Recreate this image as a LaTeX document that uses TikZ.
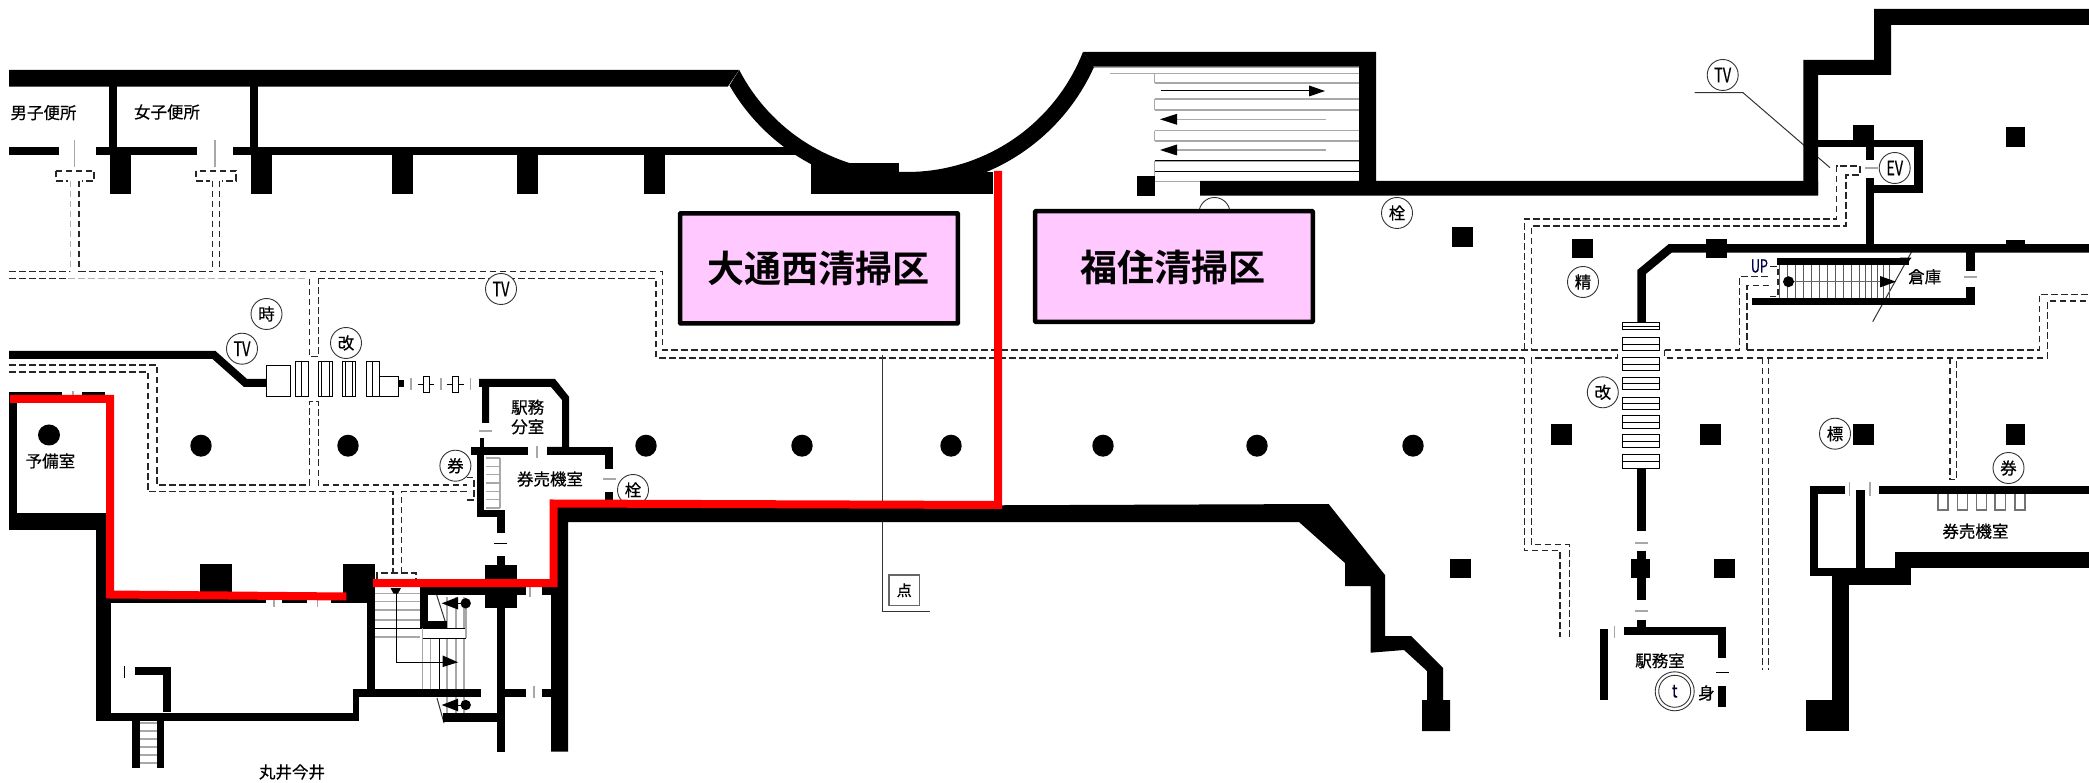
\documentclass[tikz,border=0pt]{standalone}
\usepackage{fontspec}
\newfontfamily\cjk[FakeBold=0.5]{Noto Sans CJK JP}
\newfontfamily\cjkbold{Noto Sans CJK JP Bold}
\definecolor{pinkbox}{HTML}{FFC8FF}
\definecolor{redline}{HTML}{FF0000}
\definecolor{stepgrey}{HTML}{A8A8A8}
\definecolor{inkline}{HTML}{333333}
\newcommand\bk[4]{\fill[black] (#1,#2) rectangle (#3,#4);}
\newcommand\gatebox[4]{\draw[gateline] (#1,#3) rectangle (#2,#4);}
\newcommand\fs[1]{\fontsize{#1}{#1}\selectfont}
\newcommand\tvt{{\fs{20}\scalebox{.72}[1]{TV}}}
\tikzset{
  dashline/.style={draw=black!85,line width=1.15pt,dash pattern=on 6.5pt off 3.5pt},
  dashgrey/.style={draw=black!30,line width=1.6pt,dash pattern=on 6.5pt off 3.5pt},
  greytick/.style={draw=stepgrey,line width=1.3pt},
  stepline/.style={draw=stepgrey,line width=1.4pt},
  thinline/.style={draw=black,line width=1pt},
  leader/.style={draw=inkline,line width=1pt},
  gateline/.style={draw=black,line width=1pt,fill=white},
  circlabel/.style={circle,draw=inkline,line width=.9pt,fill=white,minimum size=31pt,inner sep=0pt,font=\cjk\fs{16.5}},
  roomlabel/.style={font=\cjk\fs{16.5},inner sep=0pt,align=center},
  zonebox/.style={draw=black,line width=4.5pt,fill=pinkbox,rounded corners=.6pt},
  zonelabel/.style={font=\cjkbold\fs{37},inner sep=0pt},
  redpath/.style={draw=redline,line width=8pt,line join=miter},
}
\begin{document}
\begin{tikzpicture}[x=1pt,y=-1pt]
\useasboundingbox (0,0) rectangle (2089,783);
\fill[white] (0,0) rectangle (2089,783);

%% ---------- dashed guide lines ----------
% toilets
\draw[dashline] (56,171) rectangle (94,181);
\draw[dashline] (196,171) rectangle (236,181);
\fill[white] (68,178) rectangle (82,183);
\fill[white] (210,178) rectangle (222,183);
\draw[dashgrey] (70.5,181) -- (70.5,272);
\draw[dashline] (79,181) -- (79,271.7);
\draw[dashline] (212.5,181) -- (212.5,271.7);
\draw[dashline] (219.6,181) -- (219.6,271.7);
% west main corridor
\draw[dashline] (9,271.7) -- (70,271.7);
\draw[dashline] (79,271.7) -- (212.5,271.7);
\draw[dashline] (219.6,271.7) -- (662.5,271.7) -- (662.5,350) -- (1617.4,350) -- (1617.4,358) -- (1531.4,358);
\draw[dashline] (9,278.7) -- (68,278.7);
\draw[dashgrey] (68,278.7) -- (305,278.7);
\draw[dashline] (318.3,278.7) -- (656,278.7) -- (656,358) -- (1524.3,358);
% branch to gates
\draw[dashline] (309.4,278.7) -- (309.4,356.7) -- (318.3,356.7) -- (318.3,278.7);
\draw[dashline] (309.4,485) -- (309.4,401.7) -- (318.3,401.7) -- (318.3,485) -- (466.5,485);
\draw[dashline] (9,365) -- (157,365) -- (157,485) -- (309.4,485);
\draw[dashline] (9,372) -- (148,372) -- (148,491.7) -- (393,491.7) -- (393,573);
\draw[dashline] (401.3,573) -- (401.3,491.7) -- (466.5,491.7);
\draw[dashline] (466.5,477.7) -- (474,477.7) -- (474,500) -- (466.5,500);
\draw[dashline] (377,579) -- (377,573) -- (416,573) -- (416,579);
% north-east loop
\draw[dashline] (1524.3,358) -- (1524.3,550.7) -- (1560,550.7) -- (1560,637);
\draw[dashline] (1531.4,358) -- (1531.4,544.7) -- (1569.3,544.7) -- (1569.3,637);
\draw[dashline] (1524.3,350) -- (1524.3,219) -- (1836.5,219) -- (1836.5,166) -- (1860,166) -- (1860,175) -- (1846,175) -- (1846,226) -- (1531.4,226) -- (1531.4,350);
% east corridor
\draw[dashline] (1664.6,350) -- (1664.6,358) -- (2047.3,358) -- (2047.3,301) -- (2089,301);
\draw[dashline] (1664.6,350) -- (1739.5,350) -- (1739.5,276.7) -- (1770,276.7);
\draw[dashline] (1747,350) -- (2039.3,350) -- (2039.3,294.3) -- (2089,294.3);
\draw[dashline] (1747,350) -- (1747,285.7) -- (1770,285.7);
\draw[dashline] (1770,266.7) -- (1778,266.7) -- (1778,296.7) -- (1770,296.7);
\draw[dashline] (1762.4,358) -- (1762.4,669.7);
\draw[dashline] (1768.6,358) -- (1768.6,669.7);
\draw[dashline] (1950,358) -- (1950,479.7) -- (1956.4,479.7) -- (1956.4,358);

%% ---------- leader lines ----------
\draw[leader] (882,355) -- (882,611) -- (930,611);
\draw[leader] (1694.5,92.7) -- (1743,92.7) -- (1830,167.7);
\draw[leader] (1911.5,252) -- (1872.7,321.7);
\draw[leader] (436.7,595) -- (447.3,628);
\draw[leader] (437,698) -- (444,723);

%% ---------- circled marks ----------
\node[circlabel] (ctokei) at (266.5,314) {時};
\node[circlabel] (ctv1) at (501,289) {\tvt};
\node[circlabel] (ctv2) at (242,348.7) {\tvt};
\node[circlabel] (ckai1) at (346,343) {改};
\node[circlabel] (cken1) at (455.4,465.7) {券};
\node[circlabel] (csen1) at (633,490) {栓};
\node[circlabel] (cbun) at (1214.5,213) {};
\node[circlabel] (csen2) at (1397,213) {栓};
\node[circlabel] (ctv3) at (1722.7,75) {\tvt};
\node[circlabel] (cev) at (1894.7,168) {{\fs{20}\scalebox{.72}[1]{EV}}};
\node[circlabel] (csei) at (1583,282) {精};
\node[circlabel] (ckai2) at (1602.8,392.3) {改};
\node[circlabel] (chyo) at (1835,433.7) {標};
\node[circlabel] (cken2) at (2008.5,468) {券};
\node[circlabel,minimum size=39pt] (cphone) at (1674.7,691.3) {};
\node[circle,draw=inkline,line width=.9pt,minimum size=32pt,inner sep=0pt,font=\cjk\fs{18},text=black!80!blue] (cphonein) at (1674.7,691.3) {\scalebox{.8}[1]{t}};

%% ---------- stairs and escalators ----------
% north stairs
\foreach \yy in {67.3,73.3,83,99,110,130.7,141,161,171.7,181.7}{
  \ifdim\yy pt<70pt \draw[stepline] (1093,\yy) -- (1359,\yy);
  \else \ifdim\yy pt<75pt \draw[stepline] (1110,\yy) -- (1359,\yy);
  \else \draw[stepline] (1154.5,\yy) -- (1359,\yy); \fi\fi}
\draw[stepline] (1154.5,73.3) -- (1154.5,83);
\draw[stepline] (1154.5,99) -- (1154.5,110);
\draw[stepline] (1154.5,130.7) -- (1154.5,141);
\draw[stepline] (1154.5,161) -- (1154.5,181.7);
\draw[thinline] (1154.5,161) -- (1359,161);
\draw[thinline] (1154.5,171.7) -- (1359,171.7);
\draw[thinline] (1160.7,91) -- (1310,91);
\fill[black] (1325,91) -- (1309,85.5) -- (1309,96.5) -- cycle;
\draw[stepline] (1176,119.3) -- (1326,119.3);
\fill[black] (1160,119.3) -- (1177,113.8) -- (1177,124.8) -- cycle;
\draw[stepline] (1176,150) -- (1326,150);
\fill[black] (1160,150) -- (1177,144.5) -- (1177,155.5) -- cycle;
% ticket-room steps
\foreach \yy in {458,466.3,474.6,482.9,491.2,499.5,507.8}{\draw[stepline] (486,\yy) -- (500,\yy);}
\draw[stepline] (500,458) -- (500,508);
% SW exit stairs
\foreach \yy in {723,731,739,747,755,763}{\draw[stepline] (140,\yy) -- (157,\yy);}
% central stairs
\foreach \yy in {593.5,601.5,610,620,628.3,637}{\draw[stepline] (375,\yy) -- (420,\yy);}
\foreach \xx in {422.7,430.7,447,456,464}{\draw[stepline] (\xx,638) -- (\xx,689);}
\foreach \xx in {447,456,464}{\draw[stepline] (\xx,597) -- (\xx,628);\draw[stepline] (\xx,697) -- (\xx,713);}
\draw[thinline] (375,628.3) -- (466,628.3);
\draw[thinline] (422.7,638.3) -- (466,638.3);
\draw[stepline] (466,598) -- (466,638);
\draw[stepline] (422.7,628) -- (422.7,638);
\draw[thinline] (439.3,638) -- (439.3,689);
\draw[thinline] (396,590) -- (396,662.3) -- (445,662.3);
\fill[black] (458,662.3) -- (442.7,655.5) -- (442.7,667) -- cycle;
\fill[black] (390.5,588) -- (401,588) -- (398,593.5) -- (393.5,593.5) -- cycle;
\draw[thinline] (455,603.3) -- (465,603.3);
\fill[black] (441.7,603.3) -- (458,597) -- (458,609.5) -- cycle;
\fill[black] (465.7,603.3) circle (5.2);
\draw[thinline] (455,705) -- (465,705);
\fill[black] (441.7,705) -- (458,698.7) -- (458,711.3) -- cycle;
\fill[black] (465.7,705) circle (5.2);
% store-room stairs
\foreach \xx in {1779,1787,1795,1803,1811,1819,1827,1835,1843,1851,1859,1865,1871,1877,1883,1889}{\draw[draw=black!65,line width=1pt] (\xx,265) -- (\xx,298);}
\draw[draw=black!60,line width=1.2pt] (1788.5,281.7) -- (1882,281.7);
\fill[black] (1788.5,281.7) circle (5.5);
\fill[black] (1896,281.7) -- (1880,276) -- (1880,287.4) -- cycle;

%% ---------- walls ----------
% north wall, west part
\fill[black] (9,70) -- (739,70) -- (727.7,86.7) -- (9,86.7) -- cycle;
\bk{109}{86}{117}{147}
\bk{250}{86}{258}{147}
\bk{9}{147}{59}{155}
\bk{95.5}{147}{197}{155}
\bk{232.6}{147}{795}{155}
\bk{110}{155}{131}{194}
\bk{251}{155}{272}{194}
\bk{391.5}{155}{412.5}{194}
\bk{516.5}{155}{537.5}{194}
\bk{644}{155}{665}{194}
\draw[greytick] (74.5,140) -- (74.5,167);
\draw[greytick] (215,140) -- (215,167);
% curved wall
\fill[black] plot[variable=\t,domain=152.6:21.4,samples=70] ({907+189*cos(\t)},{-17+189*sin(\t)})
  -- plot[variable=\t,domain=24.3:150,samples=70] ({907+205*cos(\t)},{-17+205*sin(\t)}) -- cycle;
\bk{811}{163}{899}{194.3}
\bk{899}{172}{993}{194.3}
% north-centre stair hall
\fill[black] (1083,52) -- (1376,52) -- (1376,181) -- (1818,181) -- (1818,195.7) -- (1200,195.7) -- (1200,181) -- (1359,181) -- (1359,66.7) -- (1093,66.7) -- cycle;
\bk{1136.6}{175.7}{1155}{195.7}
% north-east stepped wall
\fill[black] (1803.4,195) -- (1803.4,60) -- (1874,60) -- (1874,9) -- (2089,9) -- (2089,25) -- (1891,25) -- (1891,75) -- (1818,75) -- (1818,195) -- cycle;
% EV room
\bk{1818}{140}{1922.5}{147}
\bk{1913.7}{140}{1922.5}{192.7}
\bk{1874}{185}{1922.5}{192.7}
\bk{1853}{125}{1874}{145}
\bk{1865.6}{145}{1874}{160}
\bk{1865.6}{177.7}{1874}{248}
\draw[greytick] (1865,168) -- (1878,168);
\bk{2006}{126.7}{2025}{146.7}
% free columns
\bk{1451.6}{226.7}{1472.8}{247}
\bk{1571.5}{238.7}{1592.7}{258}
\bk{1706.4}{238.7}{1726.7}{258}
\bk{2006}{240}{2025}{248}
\bk{1550.8}{424.3}{1571.5}{444.7}
\bk{1699.8}{424.3}{1721}{444.7}
\bk{1853}{424.3}{1874}{444.7}
\bk{2006}{424.3}{2025}{444.7}
\bk{1450}{559}{1470.5}{578}
\bk{1714}{559}{1734.7}{578}
% east concourse wall
\draw[draw=black,line width=8.5pt,line join=miter] (1641.6,325) -- (1641.6,272) -- (1670,248.5) -- (2089,248.5);
% store room
\bk{1777}{257.7}{1909}{265}
\fill[black] (1900,257.7) -- (1911.5,257.7) -- (1906,265) -- (1900,265) -- cycle;
\bk{1752}{298}{1974.5}{305}
\bk{1966}{252}{1974.5}{270.7}
\bk{1966}{286.7}{1974.5}{305}
\draw[greytick] (1964,277) -- (1977,277);
% central office wall
\bk{1637}{468}{1646}{531}
\draw[greytick] (1634.6,543) -- (1648,543);
\bk{1637}{550.7}{1646}{600}
\bk{1630.6}{559}{1650.4}{578}
\draw[greytick] (1634.6,611) -- (1648,611);
\bk{1637}{620}{1646}{630}
\bk{1623.5}{627}{1726.3}{635}
\bk{1717.5}{627}{1726.3}{658}
\draw[thinline] (1716,672) -- (1729,672);
\bk{1717.5}{685.7}{1726.3}{707}
\bk{1599.7}{629}{1608}{700}
\draw[greytick] (1614.7,625.7) -- (1614.7,638);
% east lower room
\bk{1810}{486}{1844.5}{494}
\bk{1879}{486}{2089}{494}
\bk{1810}{486}{1818}{576}
\bk{1856}{490}{1865}{576}
\bk{1810}{568}{1895}{576}
\bk{1832}{576}{1910.6}{585}
\bk{1895}{552}{2089}{568}
\bk{1895}{552}{1910.6}{585}
\bk{1832}{576}{1849}{700}
\bk{1805.6}{700}{1849}{731}
\draw[greytick] (1849.7,482) -- (1849.7,496);
\draw[greytick] (1870,482) -- (1870,496);
\foreach \xa/\xb in {1938/1948,1957.8/1967.5,1976.7/1986.4,1995/2005.4,2015/2025}{
  \draw[draw=black!55,line width=1.2pt] (\xa,494) -- (\xa,510) -- (\xb,510) -- (\xb,494);}
% long south wall
\fill[black] (551,507) -- (1328.6,504) -- (1385,575) -- (1385,636) -- (1411,636) -- (1443,668) -- (1443,700) -- (1450,700) -- (1450,731) -- (1422,731) -- (1422,700) -- (1427,700) -- (1427,671) -- (1404,650) -- (1370.5,652.7) -- (1370.5,586) -- (1345,586) -- (1345,563) -- (1299,522) -- (568,522) -- (568,751.7) -- (551,751.7) -- cycle;
% office at gates
\fill[black] (479,379) -- (555,379) -- (569,396.7) -- (569,455) -- (547,455) -- (547,447) -- (562,447) -- (562,400) -- (551,387) -- (489,387) -- (489,423) -- (482,423) -- (482,387) -- (479,387) -- cycle;
\draw[greytick] (479,431) -- (492,431);
\bk{480}{438}{484}{447}
\bk{471}{447}{528}{455}
\bk{547}{447}{613}{455}
\draw[greytick] (537,446) -- (537,458);
\bk{605}{447}{613}{469}
\draw[greytick] (603,479) -- (616,479);
\bk{605}{492}{613}{500}
\bk{477}{455}{484}{517}
\bk{477}{510}{504.5}{517}
\bk{496.5}{510}{504.5}{533}
\draw[thinline] (494,543) -- (507,543);
\bk{496.5}{555.7}{504.5}{751.7}
\bk{485}{565}{516.5}{608}
% west room
\bk{9}{392}{62}{403}
\bk{82}{392}{105}{403}
\draw[greytick] (73,391) -- (73,403);
\bk{9}{393}{17}{530}
\bk{9}{513}{109}{530}
\bk{95.5}{530}{110.7}{720.7}
\bk{95.5}{712.7}{359.4}{720.7}
\bk{352.7}{689}{359.4}{720.7}
\bk{352.7}{689}{481}{696.7}
\bk{367.3}{587}{375}{689}
\bk{343}{564}{375}{603}
\bk{199.5}{564}{232}{592}
\bk{110}{597}{265.6}{603}
\bk{282}{597}{307}{603}
\bk{331}{597}{344}{603}
\draw[greytick] (274,598) -- (274,607);
\draw[greytick] (317.4,598) -- (317.4,607);
\bk{135}{667}{171}{675}
\bk{163}{667}{171}{712}
\draw[thinline] (124,666) -- (124,678);
\bk{132}{718}{140}{768}
\bk{157}{718}{164}{768}
% central stairs walls
\bk{420}{587}{516}{595}
\bk{420}{593}{428.3}{628.3}
\bk{420}{621}{446.7}{628.3}
\bk{504.5}{587}{526}{595}
\bk{542}{587}{551}{595}
\draw[greytick] (530,587) -- (530,597);
\bk{504.5}{689}{526}{697}
\bk{542}{689}{551}{697}
\draw[greytick] (534,686) -- (534,698);
\bk{442.7}{713}{496.5}{721.7}

%% ---------- gates ----------
\draw[draw=black,line width=8pt,line join=miter] (9,355) -- (214,355) -- (245.5,383) -- (266.5,383);
\gatebox{266.5}{290.6}{366}{396.7}
\gatebox{295.5}{308}{362}{396.7}
\draw[thinline] (301.8,362) -- (301.8,396.7);
\gatebox{318}{332.6}{362}{396.7}
\draw[thinline] (321.5,362) -- (321.5,396.7);
\draw[thinline] (329,362) -- (329,396.7);
\gatebox{342.4}{355}{362}{396.7}
\draw[thinline] (345.5,362) -- (345.5,396.7);
\draw[thinline] (352,362) -- (352,396.7);
\gatebox{366}{379.5}{362}{396.7}
\draw[thinline] (372.8,362) -- (372.8,396.7);
\gatebox{379.5}{398}{377}{396.7}
\bk{398}{380}{404}{387}
\draw[greytick] (411,378) -- (411,390);
\draw[thinline] (418,384.5) -- (434,384.5);
\draw[thinline,fill=white] (423,377) rectangle (429,393);
\draw[greytick] (441,378) -- (441,390);
\draw[thinline] (447,384.5) -- (464,384.5);
\draw[thinline,fill=white] (452,377) rectangle (458.5,393);
\draw[greytick] (470.5,378) -- (470.5,390);
\foreach \ya/\yb in {322.7/330,338/350.7,358/370.7,377.7/390,397.7/410,416/429,435/448,455/468}{
  \gatebox{1622.7}{1659.3}{\ya}{\yb}
  \draw[thinline] (1622.7,{(\ya+\yb)/2}) -- (1659.3,{(\ya+\yb)/2});
}

%% ---------- round columns ----------
\foreach \xx in {201,348,646,802,951,1103,1257,1413}{\fill[black] (\xx,445.7) ellipse (10.7 and 11);}
\fill[black] (49,435) ellipse (11 and 10.5);

%% ---------- room labels ----------
\node[roomlabel] (lmen) at (43.5,112.7) {男子便所};
\node[roomlabel] (lwomen) at (167,112) {女子便所};
\node[roomlabel] (lyobi) at (50.4,461) {予備室};
\node[roomlabel] (lbunshitsu) at (527.7,417) {駅務\\[3pt]分室};
\node[roomlabel] (lken1) at (550,479) {券売機室};
\node[roomlabel] (lmarui) at (292,772) {丸井今井};
\node[roomlabel] (lken2) at (1975.4,531.3) {券売機室};
\node[roomlabel] (lekimu) at (1660,660.7) {駅務室};
\node[roomlabel] (lmi) at (1706.4,693) {身};
\node[roomlabel] (lsouko) at (1924.7,276.7) {倉庫};
\node[font=\cjk\fs{18},inner sep=0pt,text=black!70!blue] (lup) at (1759.4,266) {\scalebox{.7}[1]{UP}};
\node[draw=black!60,line width=1.2pt,fill=white,minimum width=30.6pt,minimum height=30.7pt,inner sep=0pt,font=\cjk\fs{15}] (lten) at (904.3,590.3) {点};

%% ---------- cleaning-zone boxes ----------
\draw[zonebox] (680.2,213.3) rectangle (957.8,323.4);
\node[zonelabel] (zonea) at (818,268) {大通西清掃区};
\draw[zonebox] (1035.2,211.2) rectangle (1312.8,321.8);
\node[zonelabel] (zoneb) at (1173,267) {福住清掃区};

%% ---------- red boundary ----------
\draw[redpath] (10,399) -- (110,399) -- (110,594.5) -- (346.4,596.5);
\draw[redpath] (373,583) -- (553.5,583) -- (553.5,503.5) -- (998,505) -- (998,171);
\end{tikzpicture}
\end{document}
